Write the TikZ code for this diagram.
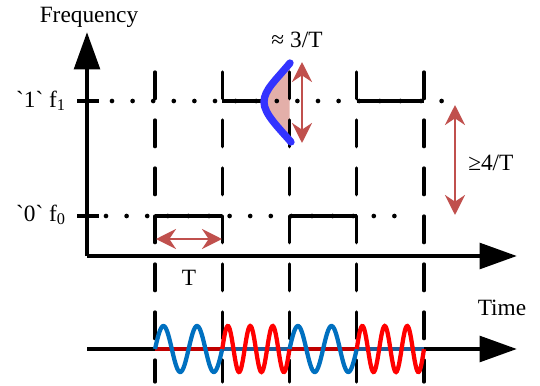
\documentclass[tikz,border=0pt]{standalone}
\usepackage{fontspec}
\setmainfont{Liberation Serif}
\usetikzlibrary{arrows.meta}
\definecolor{Lobe}{HTML}{3333FF}
\definecolor{Brick}{HTML}{C0504D}
\definecolor{Blush}{HTML}{E3AFA9}
\definecolor{WaveBlue}{HTML}{0070C0}
\definecolor{WaveRed}{HTML}{FF0000}
\definecolor{FlatBlue}{HTML}{1F5C99}
\definecolor{FlatRed}{HTML}{C00000}

\begin{document}
\begin{tikzpicture}[x=0.75pt,y=-0.75pt,
    axis/.style={line width=3.5pt,-{Triangle[length=28pt,width=19pt]}},
    level/.style={line width=2.8pt},
    grid/.style={line width=2.5pt,line cap=round,dash pattern=on 20pt off 16pt},
    dots/.style={line width=3.5pt,line cap=round,dash pattern=on 0pt off 15.45pt},
    span/.style={Brick,line width=2.2pt,{Stealth[length=15pt,width=15pt,inset=5pt]}-{Stealth[length=15pt,width=15pt,inset=5pt]}},
    wave/.style={line width=3.2pt},
    flat/.style={line width=3.6pt},
    lbl/.style={font=\fontsize{17.5}{20}\selectfont,inner sep=0pt}]
    \useasboundingbox (0,0) rectangle (540,386);
    % axes and levels
    \coordinate (O) at (87,256);
    \coordinate (ytip) at (87,32);
    \coordinate (xtip) at (517,256);
    \coordinate (tstart) at (87,349);
    \coordinate (ttip) at (517,349);
    \coordinate (lv1) at (87,101);
    \coordinate (lv0) at (87,216);
    \foreach \x [count=\k from 0] in {155,222.25,289.5,356.75,424} {
      \coordinate (b\k) at (\x,72);
      \coordinate (e\k) at (\x,382);
    }
    % spectral lobe
    \coordinate (lobetop) at (290,63);
    \coordinate (lobemid) at (264,102);
    \coordinate (lobebot) at (291,142);
    \fill[Blush] (lobetop) .. controls (276,80) and (264,90) .. (lobemid) .. controls (264,114) and (279,128) .. (lobebot) -- (289.5,142) -- (289.5,63) -- cycle;
    \draw[dots] (112,101) -- (456,101);
    \draw[dots] (106,216) -- (410,216);
    \foreach \k in {0,...,4}
      \draw[grid] (b\k) -- (e\k);
    \draw[axis] (O) -- (ytip);
    \draw[axis] (O) -- (xtip);
    \draw[axis] (tstart) -- (ttip);
    \draw[line width=3.5pt] (77,101) -- (99,101);
    \draw[line width=3.5pt] (77,216) -- (99,216);
    \draw[level] (b0 |- lv0) -- (b1 |- lv0);
    \draw[level] (b2 |- lv0) -- (b3 |- lv0);
    \draw[level] (b1 |- lv1) -- (lobemid |- lv1);
    \draw[level] (b3 |- lv1) -- (b4 |- lv1);
    \draw[Lobe,line width=5.5pt,line cap=round] (lobetop) .. controls (276,80) and (264,90) .. (lobemid) .. controls (264,114) and (279,128) .. (lobebot);
    % widths
    \coordinate (bwtop) at (302,62);
    \coordinate (bwbot) at (302,143);
    \coordinate (sep1) at (455,105);
    \coordinate (sep0) at (455,215);
    \coordinate (tl) at (156,239);
    \coordinate (tr) at (222,239);
    \draw[span] (bwtop) -- (bwbot);
    \draw[span] (sep1) -- (sep0);
    \draw[span] (tl) -- (tr);
    % modulated signal
    \foreach \i/\n/\wc/\fc in {0/2/WaveBlue/FlatRed,1/3/WaveRed/FlatBlue,2/2/WaveBlue/FlatRed,3/3/WaveRed/FlatBlue} {
      \draw[flat,\fc] ({155+67.25*\i},349) -- ({155+67.25*(\i+1)},349);
      \draw[wave,\wc] plot[domain=0:1,samples=90,smooth] ({155+67.25*\i+67.25*\x},{349-23*sin(\n*360*\x)});
    }
    % labels
    \node[lbl] (freq) at (89,17) {Frequency};
    \node[lbl] (approx) at (297,40) {≈ 3/T};
    \node[lbl,anchor=east] (one) at (66,101) {\textasciigrave 1\textasciigrave\ f\textsubscript{1}};
    \node[lbl,anchor=east] (zero) at (66,215) {\textasciigrave 0\textasciigrave\ f\textsubscript{0}};
    \node[lbl,anchor=west] (gap) at (468,163) {≥4/T};
    \node[lbl] (tlabel) at (189,278) {T};
    \node[lbl] (time) at (502,308) {Time};
  \end{tikzpicture}
\end{document}
